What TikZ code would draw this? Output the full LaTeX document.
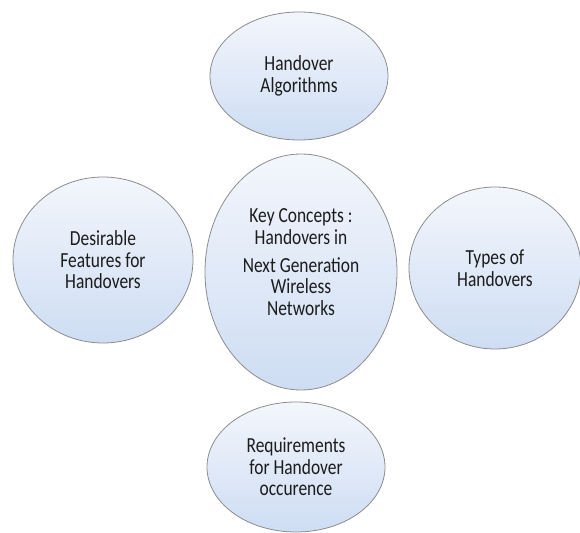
\documentclass[tikz,border=0pt]{standalone}
\usepackage{fontspec}
\setmainfont{Carlito}[FakeStretch=0.81]
\usetikzlibrary{shapes.geometric}
\definecolor{ellTop}{RGB}{243,246,252}
\definecolor{ellBot}{RGB}{206,221,243}
\definecolor{ellLine}{RGB}{140,140,140}
\definecolor{txt}{RGB}{28,28,28}
\tikzset{
  bubble/.style={ellipse, draw=ellLine, line width=0.8pt, top color=ellTop, bottom color=ellBot,
    inner sep=0pt, align=center, text=txt, font=\fontsize{21.5}{21.5}\selectfont},
  label text/.style={align=center, text=txt, font=\fontsize{21.5}{21.5}\selectfont, inner sep=0pt}
}
\begin{document}
\begin{tikzpicture}[x=1pt,y=-1pt]
\useasboundingbox (0,0) rectangle (580,532);
\node[bubble, minimum width=178, minimum height=128] (top) at (299,76) {Handover\\Algorithms};
\node[bubble, minimum width=180, minimum height=166] (left) at (103,260) {Desirable\\Features for\\Handovers};
\node[bubble, minimum width=172, minimum height=162] (right) at (495,268) {Types of\\Handovers};
\node[bubble, minimum width=178, minimum height=130] (bottom) at (296,467) {Requirements\\for Handover\\occurence};
\node[bubble, minimum width=192, minimum height=236] (center) at (301,272) {};
\node[label text] (centertext) at (301,262) {Key Concepts :\\Handovers in\\[6.5pt]Next Generation\\Wireless\\Networks};
\end{tikzpicture}
\end{document}
